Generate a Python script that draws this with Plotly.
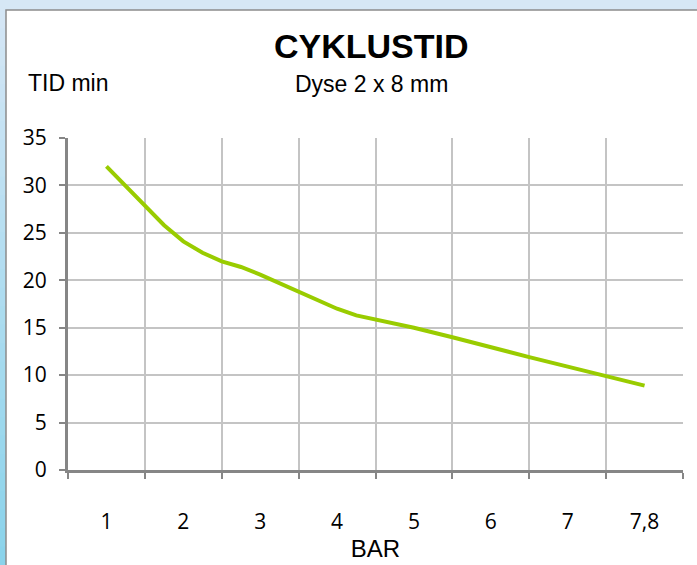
import plotly.graph_objects as go

# Category labels (BAR) and their positions on the category axis
categories = ["1", "2", "3", "4", "5", "6", "7", "7,8"]
category_pos = [1, 2, 3, 4, 5, 6, 7, 8]

# Measured curve points (position along category axis, TID min)
curve_pos = [1, 1.25, 1.5, 1.75, 2, 2.25, 2.5, 2.75, 3, 3.25, 3.5, 3.75,
             4, 4.25, 4.5, 4.75, 5, 5.5, 6, 6.5, 7, 7.5, 8]
curve_tid = [32.0, 29.9, 27.9, 25.8, 24.1, 22.9, 22.0, 21.4, 20.6, 19.7, 18.7, 17.9,
             17.0, 16.3, 15.9, 15.5, 15.0, 14.0, 12.9, 11.9, 10.9, 9.9, 8.9]

y_ticks = [0, 5, 10, 15, 20, 25, 30, 35]

W, H = 697, 565
L, R, T, B = 68, 14, 138, 95
PW, PH = W - L - R, H - T - B


def px_x(px):
    return (px - L) / PW


def px_y(py):
    return (H - B - py) / PH


fig = go.Figure()
fig.add_trace(go.Scatter(
    x=curve_pos, y=curve_tid, mode="lines",
    line=dict(color="#99cc00", width=4),
    showlegend=False, hoverinfo="skip",
))

shapes = []
# left gradient strip
n = 30
top_c = (0xd4, 0xe6, 0xf5)
bot_c = (0x8a, 0xd3, 0xeb)
for i in range(n):
    f = i / (n - 1)
    c = tuple(int(round(top_c[k] + (bot_c[k] - top_c[k]) * f)) for k in range(3))
    y0 = 10 + i * (H - 10) / n
    y1 = 10 + (i + 1) * (H - 10) / n + 1
    shapes.append(dict(type="rect", xref="paper", yref="paper",
                       x0=px_x(0), x1=px_x(7), y0=px_y(y1), y1=px_y(y0),
                       fillcolor="rgb(%d,%d,%d)" % c, line=dict(width=0), layer="below"))
# white chart area with grey border
shapes.append(dict(type="rect", xref="paper", yref="paper",
                   x0=px_x(6), x1=px_x(W + 20), y0=px_y(H + 20), y1=px_y(10),
                   fillcolor="white", line=dict(color="#8c8c8c", width=1.5), layer="below"))

fig.update_layout(
    width=W, height=H,
    margin=dict(l=L, r=R, t=T, b=B),
    paper_bgcolor="#d6e7f5",
    plot_bgcolor="white",
    shapes=shapes,
    showlegend=False,
    annotations=[
        dict(text="<b>CYKLUSTID</b>", xref="paper", yref="paper",
             x=px_x(371.5), y=px_y(46.5), xanchor="center", yanchor="middle",
             showarrow=False, font=dict(family="Liberation Sans", size=34, color="black")),
        dict(text="Dyse 2 x 8 mm", xref="paper", yref="paper",
             x=px_x(371.5), y=px_y(84), xanchor="center", yanchor="middle",
             showarrow=False, font=dict(family="Liberation Sans", size=23, color="black")),
        dict(text="TID min", xref="paper", yref="paper",
             x=px_x(26), y=px_y(83), xanchor="left", yanchor="middle",
             showarrow=False, font=dict(family="Liberation Sans", size=23, color="black")),
    ],
    xaxis=dict(
        range=[0.5, 8.5], tickmode="array", tickvals=category_pos, ticktext=categories,
        ticks="", showgrid=False, zeroline=False, automargin=False,
        showline=True, linecolor="#868686", linewidth=3,
        tickfont=dict(family="Open Sans", size=21, color="black"),
        ticklabelstandoff=31,
        minor=dict(tickmode="array", tickvals=[p + 0.5 for p in [0] + category_pos],
                   ticks="outside", ticklen=6, tickwidth=2, tickcolor="#868686",
                   showgrid=True, gridcolor="#c4c4c4", gridwidth=1.5),
        title=dict(text="BAR", font=dict(family="Liberation Sans", size=24, color="black"),
                   standoff=6),
    ),
    yaxis=dict(
        range=[0, 35], tickmode="array", tickvals=y_ticks, automargin=False,
        ticks="outside", ticklen=6, tickwidth=2, tickcolor="#868686",
        showgrid=True, gridcolor="#c4c4c4", gridwidth=1.5, zeroline=False,
        showline=True, linecolor="#868686", linewidth=3,
        tickfont=dict(family="Open Sans", size=21, color="black"),
        ticklabelstandoff=8,
    ),
)

fig.write_html("out.html", config={"displayModeBar": False},
               post_script="document.body.style.margin='0';")
